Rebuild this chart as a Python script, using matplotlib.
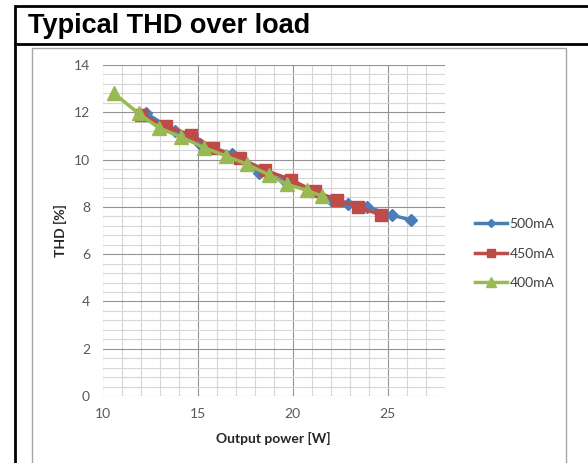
import matplotlib.pyplot as plt
from matplotlib.lines import Line2D
from matplotlib.patches import Rectangle
from matplotlib.ticker import MultipleLocator

# data
series_names = ["500mA", "450mA", "400mA"]

power_500 = [12.3, 13.8, 15.1, 16.8, 18.2, 19.6, 20.9, 22.0, 22.9, 23.9, 25.2, 26.2]
thd_500 = [11.95, 11.2, 10.65, 10.25, 9.45, 9.1, 8.65, 8.3, 8.1, 8.0, 7.65, 7.45]

power_450 = [12.0, 13.35, 14.65, 15.8, 17.25, 18.55, 19.9, 21.15, 22.35, 23.45, 24.65]
thd_450 = [11.9, 11.4, 11.05, 10.5, 10.05, 9.55, 9.15, 8.65, 8.3, 8.0, 7.65]

power_400 = [10.6, 11.9, 12.95, 14.15, 15.35, 16.5, 17.6, 18.75, 19.7, 20.75, 21.55]
thd_400 = [12.8, 11.95, 11.35, 10.95, 10.5, 10.15, 9.8, 9.35, 8.95, 8.7, 8.45]

W, H = 588, 463
fig = plt.figure(figsize=(W / 100, H / 100), dpi=100)
plt.rcParams["font.family"] = ["Lato", "DejaVu Sans"]

def fx(px):
    return px / W

def fy(py):
    return 1 - py / H

# title box and page frame
fig.add_artist(Rectangle((fx(15), fy(44)), fx(600) - fx(15), fy(6) - fy(44),
                         transform=fig.transFigure, fill=False, edgecolor="black", lw=2))
fig.add_artist(Line2D([fx(15), fx(15)], [fy(44), 0], transform=fig.transFigure, color="black", lw=2))
fig.text(fx(28), fy(26), "Typical THD over load", fontsize=19.5, fontweight="bold",
         family="Liberation Sans", va="center", ha="left")

# chart area border
fig.add_artist(Rectangle((fx(32), fy(470)), fx(566) - fx(32), fy(48) - fy(470),
                         transform=fig.transFigure, fill=False, edgecolor="#a6a6a6", lw=1))

ax = fig.add_axes([fx(102.5), fy(396), fx(445) - fx(102.5), fy(65) - fy(396)])

ax.set_xlim(10, 28)
ax.set_ylim(0, 14)
ax.xaxis.set_major_locator(MultipleLocator(5))
ax.xaxis.set_minor_locator(MultipleLocator(1))
ax.yaxis.set_major_locator(MultipleLocator(2))
ax.yaxis.set_minor_locator(MultipleLocator(0.4))
ax.grid(which="major", color="#929292", lw=0.8)
ax.grid(which="minor", color="#d6d6d6", lw=0.8)
ax.set_axisbelow(True)
for s in ax.spines.values():
    s.set_visible(False)
ax.tick_params(which="both", length=0, labelsize=10, labelcolor="#595959", pad=9)
ax.set_xticks([10, 15, 20, 25])

ax.plot(power_500, thd_500, color="#4a7ebb", lw=2.5, marker="D", markersize=6, label=series_names[0])
ax.plot(power_450, thd_450, color="#be4b48", lw=2.5, marker="s", markersize=9, label=series_names[1])
ax.plot(power_400, thd_400, color="#98b954", lw=2.5, marker="^", markersize=10, label=series_names[2])

ax.set_xlabel("Output power [W]", fontsize=10, fontweight="bold", color="#262626", labelpad=8)
ax.set_ylabel("THD [%]", fontsize=10, fontweight="bold", color="#262626", labelpad=5)

leg = ax.legend(loc="center left", bbox_to_anchor=(1.05, 0.43), frameon=False, fontsize=10,
                handlelength=2.3, labelspacing=1.25, handletextpad=0.2, markerscale=0.7)
for t in leg.get_texts():
    t.set_color("#404040")

fig.savefig("out.png", dpi=100)
